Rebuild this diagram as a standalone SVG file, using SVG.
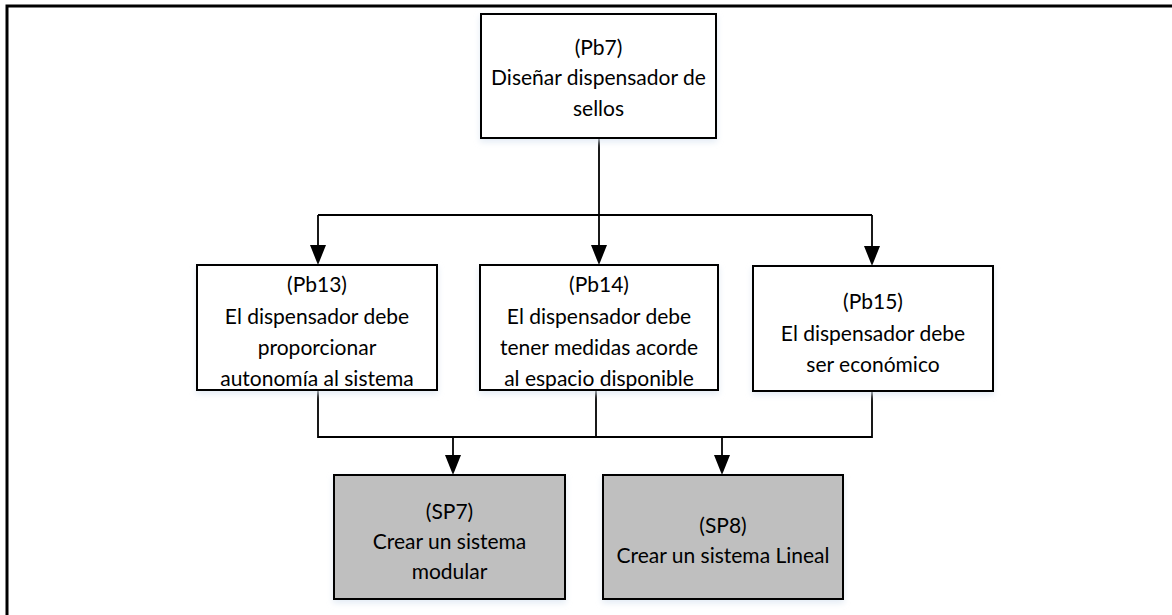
<svg xmlns="http://www.w3.org/2000/svg" width="1172" height="615" viewBox="0 0 1172 615">
  <style>
    .box { fill: #ffffff; stroke: #000000; stroke-width: 2; filter: url(#glow); }
    .grey { fill: #bfbfbf; }
    .wire { fill: none; stroke: #000000; stroke-width: 1.8; }
    text { font-family: Lato, "Open Sans", "Liberation Sans", sans-serif; font-size: 21px; fill: #000000; text-anchor: middle; }
  </style>
  <defs>
    <filter id="glow" x="-10%" y="-10%" width="120%" height="130%">
      <feDropShadow dx="0" dy="3" stdDeviation="3" flood-color="#dce6f2" flood-opacity="0.8"/>
    </filter>
  </defs>

  <rect width="1172" height="615" fill="#ffffff"/>
  <!-- page frame: top and left edges -->
  <path d="M7,615 L7,6 L1172,6" fill="none" stroke="#000000" stroke-width="3"/>

  <g id="connectors">
    <path class="wire" d="M599,138 L599,215"/>
    <path class="wire" d="M318,215 L872,215"/>
    <path class="wire" d="M318,215 L318,245"/>
    <path class="wire" d="M599,215 L599,245"/>
    <path class="wire" d="M872,215 L872,246"/>
    <path d="M310,245 L326,245 L318,265 Z"/>
    <path d="M591,245 L607,245 L599,265 Z"/>
    <path d="M864,246 L880,246 L872,266 Z"/>
    <path class="wire" d="M318,390 L318,437 L872,437 L872,391"/>
    <path class="wire" d="M596,390 L596,437"/>
    <path class="wire" d="M453,437 L453,455"/>
    <path class="wire" d="M722,437 L722,455"/>
    <path d="M445,455 L461,455 L453,475 Z"/>
    <path d="M714,455 L730,455 L722,475 Z"/>
  </g>

  <g id="pb7">
    <rect class="box" x="481" y="14" width="235" height="124"/>
    <text x="598.5" y="55">(Pb7)</text>
    <text x="598.5" y="85">Diseñar dispensador de</text>
    <text x="598.5" y="116">sellos</text>
  </g>

  <g id="pb13">
    <rect class="box" x="197" y="265" width="240" height="125"/>
    <text x="317" y="292">(Pb13)</text>
    <text x="317" y="324">El dispensador debe</text>
    <text x="317" y="355">proporcionar</text>
    <text x="317" y="386">autonomía al sistema</text>
  </g>

  <g id="pb14">
    <rect class="box" x="480" y="265" width="238" height="125"/>
    <text x="599" y="292">(Pb14)</text>
    <text x="599" y="324">El dispensador debe</text>
    <text x="599" y="355">tener medidas acorde</text>
    <text x="599" y="386">al espacio disponible</text>
  </g>

  <g id="pb15">
    <rect class="box" x="753" y="266" width="240" height="125"/>
    <text x="873" y="309">(Pb15)</text>
    <text x="873" y="341">El dispensador debe</text>
    <text x="873" y="372">ser económico</text>
  </g>

  <g id="sp7">
    <rect class="box grey" x="334" y="475" width="231" height="124"/>
    <text x="449.5" y="519">(SP7)</text>
    <text x="449.5" y="549">Crear un sistema</text>
    <text x="449.5" y="579">modular</text>
  </g>

  <g id="sp8">
    <rect class="box grey" x="603" y="475" width="240" height="124"/>
    <text x="723" y="533">(SP8)</text>
    <text x="723" y="563">Crear un sistema Lineal</text>
  </g>
</svg>
